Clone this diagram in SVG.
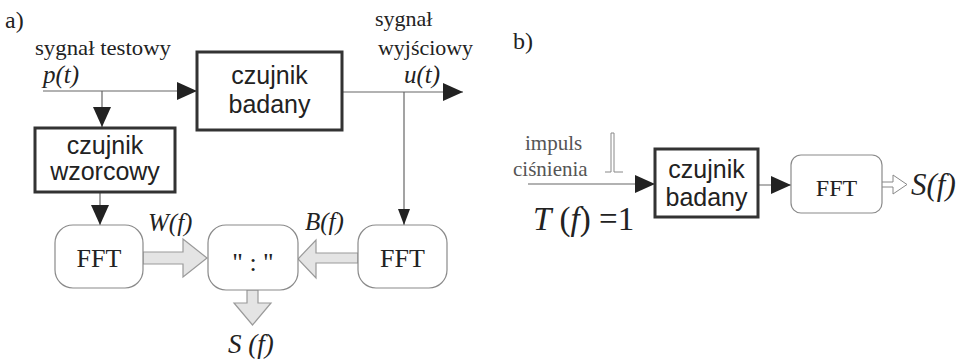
<svg xmlns="http://www.w3.org/2000/svg" width="979" height="359" viewBox="0 0 979 359">
<defs>
<style>
.serif{font-family:"Liberation Serif","Times New Roman",serif;fill:#222}
.sans{font-family:"Liberation Sans",Arial,sans-serif;fill:#222;font-size:25px;text-anchor:middle}
.it{font-style:italic}
.thick{fill:#fff;stroke:#333;stroke-width:3}
.round{fill:#fff;stroke:#8a8a8a;stroke-width:1.2}
.ln{stroke:#666;stroke-width:1.2;fill:none}
.hollow{fill:#e4e4e4;stroke:#9a9a9a;stroke-width:1.2}
.gray{fill:#555}
</style>
<marker id="ah" viewBox="0 0 20 18" refX="20" refY="9" markerWidth="20" markerHeight="18" markerUnits="userSpaceOnUse" orient="auto">
<path d="M0,0 L20,9 L0,18 z" fill="#222"/>
</marker>
<marker id="ahs" viewBox="0 0 16 12" refX="16" refY="6" markerWidth="16" markerHeight="12" markerUnits="userSpaceOnUse" orient="auto">
<path d="M0,0 L16,6 L0,12 z" fill="#222"/>
</marker>
</defs>

<text class="serif" x="5" y="28" font-size="24">a)</text>
<text class="serif" x="513" y="49" font-size="24">b)</text>

<g id="connectors">
<line class="ln" x1="43" y1="91" x2="197" y2="91" marker-end="url(#ah)"/>
<line class="ln" x1="102" y1="91" x2="102" y2="127" marker-end="url(#ah)"/>
<line class="ln" x1="100" y1="193" x2="100" y2="225" marker-end="url(#ah)"/>
<line class="ln" x1="342" y1="92" x2="463" y2="92" marker-end="url(#ah)"/>
<line class="ln" x1="404" y1="92" x2="404" y2="225" marker-end="url(#ahs)"/>
<path class="hollow" d="M143,252 H183 V239 L207,258 L183,277 V264 H143 Z"/>
<path class="hollow" d="M358,253 H316 V240 L298,259 L316,278 V263 H358 Z"/>
<path class="hollow" d="M247,290 V303 H234 L252.5,325 L271,303 H258 V290 Z"/>
<line class="ln" x1="528" y1="184" x2="655" y2="184" marker-end="url(#ah)"/>
<line class="ln" x1="758" y1="185" x2="791" y2="185" marker-end="url(#ah)"/>
<path d="M882,182 H893 V175 L907,184.5 L893,194 V187 H882" fill="#fff" stroke="#888" stroke-width="1"/>
<path d="M605,172 H611 V133 H614 V172 H623" fill="none" stroke="#888" stroke-width="1"/>
</g>

<g id="labels">
<text class="serif" x="35" y="55" font-size="22" textLength="136" lengthAdjust="spacingAndGlyphs">sygnał testowy</text>
<text class="serif it" x="43" y="83" font-size="25">p(t)</text>
<text class="serif" x="375" y="26" font-size="22">sygnał</text>
<text class="serif" x="378" y="55" font-size="22" textLength="95" lengthAdjust="spacingAndGlyphs">wyjściowy</text>
<text class="serif it" x="404" y="83" font-size="25">u(t)</text>
<text class="serif it" x="148" y="231" font-size="25">W(f)</text>
<text class="serif it" x="305" y="230" font-size="25">B(f)</text>
<text class="serif it" x="228" y="353" font-size="27">S (f)</text>
<text class="serif gray" x="525" y="150" font-size="21">impuls</text>
<text class="serif gray" x="513" y="176" font-size="21">ciśnienia</text>
<text class="serif" x="533" y="230" font-size="33"><tspan font-style="italic">T</tspan> (<tspan font-style="italic">f</tspan>) =1</text>
<text class="serif it" x="911" y="195" font-size="31">S(f)</text>
</g>

<g id="czujnik-badany-a">
<rect class="thick" x="197" y="52" width="145" height="78"/>
<text class="sans" x="269.5" y="84">czujnik</text>
<text class="sans" x="269.5" y="113">badany</text>
</g>

<g id="czujnik-wzorcowy">
<rect class="thick" x="35" y="128" width="140" height="64"/>
<text class="sans" x="105" y="154" font-size="24">czujnik</text>
<text class="sans" x="105" y="180" font-size="24">wzorcowy</text>
</g>

<g id="fft-left">
<rect class="round" x="55" y="225" width="88" height="63" rx="18"/>
<text class="serif" x="99" y="267" font-size="26" text-anchor="middle">FFT</text>
</g>

<g id="divide">
<rect class="round" x="208" y="225" width="90" height="65" rx="18"/>
<text class="serif" x="253" y="271" font-size="26" text-anchor="middle" fill="#333">" : "</text>
</g>

<g id="fft-right">
<rect class="round" x="358" y="225" width="89" height="63" rx="18"/>
<text class="serif" x="402.5" y="267" font-size="26" text-anchor="middle">FFT</text>
</g>

<g id="czujnik-badany-b">
<rect class="thick" x="655" y="149" width="103" height="68"/>
<text class="sans" x="706.5" y="178" font-size="24">czujnik</text>
<text class="sans" x="706.5" y="206" font-size="24">badany</text>
</g>

<g id="fft-b">
<rect class="round" x="791" y="155" width="91" height="58" rx="10"/>
<text class="serif" x="836.5" y="196" font-size="24" text-anchor="middle">FFT</text>
</g>
</svg>
